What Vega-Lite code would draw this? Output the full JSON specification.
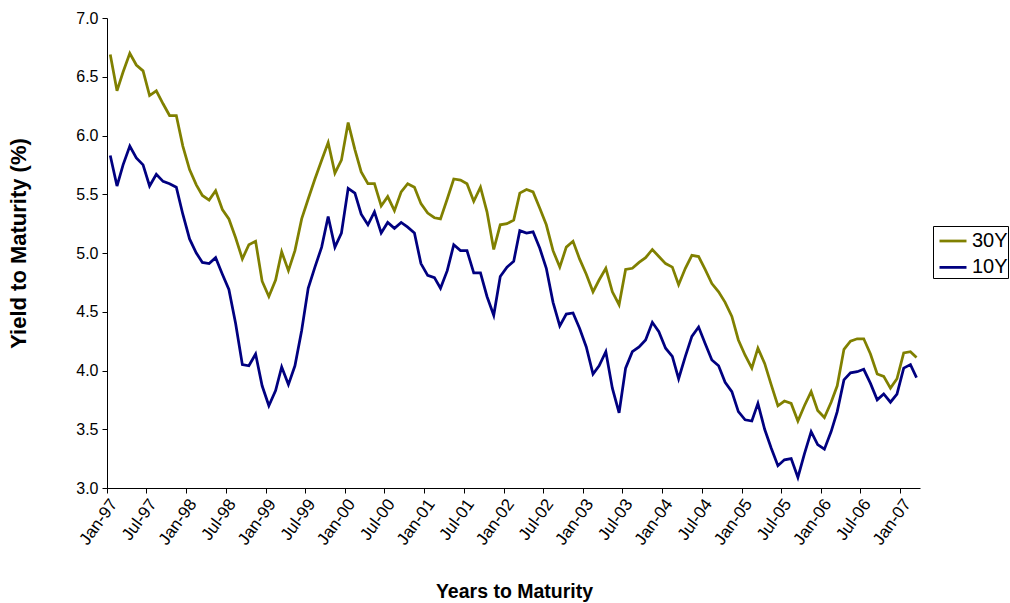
{
  "$schema": "https://vega.github.io/schema/vega-lite/v6.json",
  "width": 813,
  "height": 470,
  "autosize": {"type": "none"},
  "padding": {"left": 107, "top": 18, "right": 90, "bottom": 115},
  "background": "white",
  "config": {
    "view": {"stroke": null},
    "font": "Liberation Sans",
    "axis": {"labelColor": "black", "titleColor": "black", "domainColor": "black", "tickColor": "black", "grid": false}
  },
  "data": {
    "values": [
      {"month": "1997-01-16", "30Y": 6.69, "10Y": 5.83},
      {"month": "1997-02-16", "30Y": 6.38, "10Y": 5.57},
      {"month": "1997-03-16", "30Y": 6.54, "10Y": 5.75},
      {"month": "1997-04-16", "30Y": 6.70, "10Y": 5.91},
      {"month": "1997-05-16", "30Y": 6.60, "10Y": 5.81},
      {"month": "1997-06-16", "30Y": 6.55, "10Y": 5.75},
      {"month": "1997-07-16", "30Y": 6.34, "10Y": 5.57},
      {"month": "1997-08-16", "30Y": 6.38, "10Y": 5.67},
      {"month": "1997-09-16", "30Y": 6.27, "10Y": 5.61},
      {"month": "1997-10-16", "30Y": 6.17, "10Y": 5.59},
      {"month": "1997-11-16", "30Y": 6.17, "10Y": 5.56},
      {"month": "1997-12-16", "30Y": 5.91, "10Y": 5.33},
      {"month": "1998-01-16", "30Y": 5.71, "10Y": 5.12},
      {"month": "1998-02-16", "30Y": 5.58, "10Y": 5.00},
      {"month": "1998-03-16", "30Y": 5.49, "10Y": 4.92},
      {"month": "1998-04-16", "30Y": 5.45, "10Y": 4.91},
      {"month": "1998-05-16", "30Y": 5.53, "10Y": 4.96},
      {"month": "1998-06-16", "30Y": 5.37, "10Y": 4.82},
      {"month": "1998-07-16", "30Y": 5.29, "10Y": 4.69},
      {"month": "1998-08-16", "30Y": 5.13, "10Y": 4.40},
      {"month": "1998-09-16", "30Y": 4.95, "10Y": 4.05},
      {"month": "1998-10-16", "30Y": 5.07, "10Y": 4.04},
      {"month": "1998-11-16", "30Y": 5.10, "10Y": 4.14},
      {"month": "1998-12-16", "30Y": 4.76, "10Y": 3.87},
      {"month": "1999-01-16", "30Y": 4.63, "10Y": 3.70},
      {"month": "1999-02-16", "30Y": 4.77, "10Y": 3.83},
      {"month": "1999-03-16", "30Y": 5.01, "10Y": 4.03},
      {"month": "1999-04-16", "30Y": 4.85, "10Y": 3.88},
      {"month": "1999-05-16", "30Y": 5.02, "10Y": 4.04},
      {"month": "1999-06-16", "30Y": 5.29, "10Y": 4.34},
      {"month": "1999-07-16", "30Y": 5.46, "10Y": 4.70},
      {"month": "1999-08-16", "30Y": 5.63, "10Y": 4.88},
      {"month": "1999-09-16", "30Y": 5.79, "10Y": 5.05},
      {"month": "1999-10-16", "30Y": 5.94, "10Y": 5.31},
      {"month": "1999-11-16", "30Y": 5.68, "10Y": 5.05},
      {"month": "1999-12-16", "30Y": 5.79, "10Y": 5.17},
      {"month": "2000-01-16", "30Y": 6.11, "10Y": 5.55},
      {"month": "2000-02-16", "30Y": 5.88, "10Y": 5.51},
      {"month": "2000-03-16", "30Y": 5.69, "10Y": 5.33},
      {"month": "2000-04-16", "30Y": 5.59, "10Y": 5.24},
      {"month": "2000-05-16", "30Y": 5.59, "10Y": 5.35},
      {"month": "2000-06-16", "30Y": 5.40, "10Y": 5.17},
      {"month": "2000-07-16", "30Y": 5.48, "10Y": 5.26},
      {"month": "2000-08-16", "30Y": 5.36, "10Y": 5.21},
      {"month": "2000-09-16", "30Y": 5.52, "10Y": 5.26},
      {"month": "2000-10-16", "30Y": 5.59, "10Y": 5.22},
      {"month": "2000-11-16", "30Y": 5.56, "10Y": 5.17},
      {"month": "2000-12-16", "30Y": 5.42, "10Y": 4.91},
      {"month": "2001-01-16", "30Y": 5.34, "10Y": 4.81},
      {"month": "2001-02-16", "30Y": 5.30, "10Y": 4.79},
      {"month": "2001-03-16", "30Y": 5.29, "10Y": 4.70},
      {"month": "2001-04-16", "30Y": 5.46, "10Y": 4.85},
      {"month": "2001-05-16", "30Y": 5.63, "10Y": 5.07},
      {"month": "2001-06-16", "30Y": 5.62, "10Y": 5.02},
      {"month": "2001-07-16", "30Y": 5.59, "10Y": 5.02},
      {"month": "2001-08-16", "30Y": 5.44, "10Y": 4.83},
      {"month": "2001-09-16", "30Y": 5.56, "10Y": 4.83},
      {"month": "2001-10-16", "30Y": 5.35, "10Y": 4.63},
      {"month": "2001-11-16", "30Y": 5.03, "10Y": 4.47},
      {"month": "2001-12-16", "30Y": 5.24, "10Y": 4.80},
      {"month": "2002-01-16", "30Y": 5.25, "10Y": 4.88},
      {"month": "2002-02-16", "30Y": 5.28, "10Y": 4.93},
      {"month": "2002-03-16", "30Y": 5.51, "10Y": 5.19},
      {"month": "2002-04-16", "30Y": 5.54, "10Y": 5.17},
      {"month": "2002-05-16", "30Y": 5.52, "10Y": 5.18},
      {"month": "2002-06-16", "30Y": 5.38, "10Y": 5.04},
      {"month": "2002-07-16", "30Y": 5.24, "10Y": 4.87},
      {"month": "2002-08-16", "30Y": 5.02, "10Y": 4.58},
      {"month": "2002-09-16", "30Y": 4.88, "10Y": 4.38},
      {"month": "2002-10-16", "30Y": 5.05, "10Y": 4.48},
      {"month": "2002-11-16", "30Y": 5.10, "10Y": 4.49},
      {"month": "2002-12-16", "30Y": 4.95, "10Y": 4.36},
      {"month": "2003-01-16", "30Y": 4.82, "10Y": 4.20},
      {"month": "2003-02-16", "30Y": 4.67, "10Y": 3.97},
      {"month": "2003-03-16", "30Y": 4.77, "10Y": 4.04},
      {"month": "2003-04-16", "30Y": 4.87, "10Y": 4.16},
      {"month": "2003-05-16", "30Y": 4.67, "10Y": 3.85},
      {"month": "2003-06-16", "30Y": 4.56, "10Y": 3.64},
      {"month": "2003-07-16", "30Y": 4.86, "10Y": 4.02},
      {"month": "2003-08-16", "30Y": 4.87, "10Y": 4.16},
      {"month": "2003-09-16", "30Y": 4.92, "10Y": 4.20},
      {"month": "2003-10-16", "30Y": 4.96, "10Y": 4.26},
      {"month": "2003-11-16", "30Y": 5.03, "10Y": 4.41},
      {"month": "2003-12-16", "30Y": 4.97, "10Y": 4.33},
      {"month": "2004-01-16", "30Y": 4.91, "10Y": 4.19},
      {"month": "2004-02-16", "30Y": 4.88, "10Y": 4.12},
      {"month": "2004-03-16", "30Y": 4.73, "10Y": 3.93},
      {"month": "2004-04-16", "30Y": 4.87, "10Y": 4.12},
      {"month": "2004-05-16", "30Y": 4.98, "10Y": 4.29},
      {"month": "2004-06-16", "30Y": 4.97, "10Y": 4.37},
      {"month": "2004-07-16", "30Y": 4.86, "10Y": 4.23},
      {"month": "2004-08-16", "30Y": 4.74, "10Y": 4.09},
      {"month": "2004-09-16", "30Y": 4.67, "10Y": 4.04},
      {"month": "2004-10-16", "30Y": 4.58, "10Y": 3.90},
      {"month": "2004-11-16", "30Y": 4.46, "10Y": 3.82},
      {"month": "2004-12-16", "30Y": 4.26, "10Y": 3.65},
      {"month": "2005-01-16", "30Y": 4.13, "10Y": 3.58},
      {"month": "2005-02-16", "30Y": 4.02, "10Y": 3.57},
      {"month": "2005-03-16", "30Y": 4.19, "10Y": 3.72},
      {"month": "2005-04-16", "30Y": 4.06, "10Y": 3.50},
      {"month": "2005-05-16", "30Y": 3.88, "10Y": 3.34},
      {"month": "2005-06-16", "30Y": 3.70, "10Y": 3.19},
      {"month": "2005-07-16", "30Y": 3.74, "10Y": 3.24},
      {"month": "2005-08-16", "30Y": 3.72, "10Y": 3.25},
      {"month": "2005-09-16", "30Y": 3.57, "10Y": 3.09},
      {"month": "2005-10-16", "30Y": 3.70, "10Y": 3.29},
      {"month": "2005-11-16", "30Y": 3.82, "10Y": 3.48},
      {"month": "2005-12-16", "30Y": 3.66, "10Y": 3.37},
      {"month": "2006-01-16", "30Y": 3.60, "10Y": 3.33},
      {"month": "2006-02-16", "30Y": 3.73, "10Y": 3.48},
      {"month": "2006-03-16", "30Y": 3.87, "10Y": 3.65},
      {"month": "2006-04-16", "30Y": 4.18, "10Y": 3.92},
      {"month": "2006-05-16", "30Y": 4.25, "10Y": 3.98},
      {"month": "2006-06-16", "30Y": 4.27, "10Y": 3.99},
      {"month": "2006-07-16", "30Y": 4.27, "10Y": 4.01},
      {"month": "2006-08-16", "30Y": 4.14, "10Y": 3.89},
      {"month": "2006-09-16", "30Y": 3.97, "10Y": 3.75},
      {"month": "2006-10-16", "30Y": 3.95, "10Y": 3.80},
      {"month": "2006-11-16", "30Y": 3.85, "10Y": 3.73},
      {"month": "2006-12-16", "30Y": 3.93, "10Y": 3.80},
      {"month": "2007-01-16", "30Y": 4.15, "10Y": 4.02},
      {"month": "2007-02-16", "30Y": 4.16, "10Y": 4.05},
      {"month": "2007-03-16", "30Y": 4.11, "10Y": 3.94}
    ]
  },
  "transform": [{"fold": ["30Y", "10Y"], "as": ["series", "yield"]}],
  "mark": {"type": "line", "strokeWidth": 2.75},
  "encoding": {
    "x": {
      "field": "month",
      "type": "temporal",
      "scale": {
        "type": "utc",
        "nice": false,
        "domain": [
          {"year": 1997, "month": 1, "date": 1, "utc": true},
          {"year": 2007, "month": 4, "date": 1, "utc": true}
        ]
      },
      "axis": {
        "title": "Years to Maturity",
        "format": "%b-%y",
        "tickCount": {"interval": "month", "step": 6},
        "labelAngle": -54,
        "labelAlign": "right",
        "labelBaseline": "top",
        "labelFontSize": 17,
        "labelPadding": 3,
        "labelFlush": false,
        "labelOverlap": false,
        "tickSize": 5,
        "titleFontSize": 19.5,
        "titleFontWeight": "bold",
        "titleX": 407,
        "titleY": 109,
        "titleBaseline": "alphabetic",
        "titleAlign": "center"
      }
    },
    "y": {
      "field": "yield",
      "type": "quantitative",
      "scale": {"domain": [3, 7], "nice": false, "zero": false},
      "axis": {
        "title": "Yield to Maturity (%)",
        "values": [3, 3.5, 4, 4.5, 5, 5.5, 6, 6.5, 7],
        "format": ".1f",
        "labelFontSize": 16,
        "labelPadding": 4,
        "tickSize": 5,
        "titleFontSize": 22,
        "titleFontWeight": "bold",
        "titleX": -89,
        "titleY": 225,
        "titleAngle": -90,
        "titleAlign": "center",
        "titleBaseline": "middle"
      }
    },
    "color": {
      "field": "series",
      "type": "nominal",
      "scale": {"domain": ["30Y", "10Y"], "range": ["#808000", "#000080"]},
      "legend": {
        "orient": "none",
        "legendX": 826,
        "legendY": 208,
        "title": null,
        "symbolType": "stroke",
        "symbolSize": 729,
        "symbolStrokeWidth": 2.75,
        "symbolOffset": 5,
        "labelOffset": 4,
        "labelFontSize": 20,
        "labelColor": "black",
        "labelExpr": "datum.label + '          '",
        "strokeColor": "black",
        "fillColor": "white",
        "padding": 0,
        "rowPadding": 1.4
      }
    }
  }
}
